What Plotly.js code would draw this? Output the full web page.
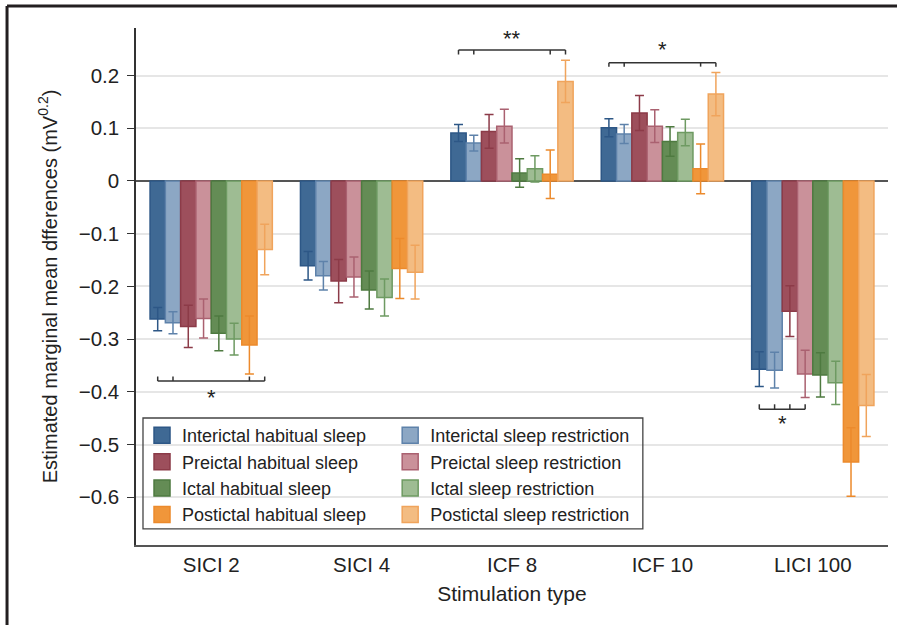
<!DOCTYPE html>
<html>
<head>
<meta charset="utf-8">
<script src="https://cdn.plot.ly/plotly-3.0.1.min.js"></script>
<style>html,body{margin:0;padding:0;background:#fff;}#chart{width:897px;height:625px;}</style>
</head>
<body>
<div id="chart"></div>
<script>
var categories = ["SICI 2", "SICI 4", "ICF 8", "ICF 10", "LICI 100"];
var seriesNames = [
  "Interictal habitual sleep", "Interictal sleep restriction",
  "Preictal habitual sleep", "Preictal sleep restriction",
  "Ictal habitual sleep", "Ictal sleep restriction",
  "Postictal habitual sleep", "Postictal sleep restriction"
];
var interictalHabitual    = [-0.262, -0.161, 0.091, 0.101, -0.357];
var interictalRestriction = [-0.269, -0.180, 0.072, 0.089, -0.359];
var preictalHabitual      = [-0.276, -0.190, 0.094, 0.129, -0.247];
var preictalRestriction   = [-0.261, -0.182, 0.104, 0.104, -0.366];
var ictalHabitual         = [-0.289, -0.207, 0.015, 0.075, -0.368];
var ictalRestriction      = [-0.300, -0.221, 0.023, 0.092, -0.383];
var postictalHabitual     = [-0.311, -0.166, 0.013, 0.023, -0.533];
var postictalRestriction  = [-0.130, -0.173, 0.189, 0.165, -0.426];

var errInterictalHabitual    = [0.022, 0.027, 0.016, 0.017, 0.033];
var errInterictalRestriction = [0.021, 0.027, 0.015, 0.018, 0.034];
var errPreictalHabitual      = [0.040, 0.041, 0.032, 0.033, 0.048];
var errPreictalRestriction   = [0.037, 0.038, 0.032, 0.031, 0.045];
var errIctalHabitual         = [0.033, 0.036, 0.027, 0.028, 0.042];
var errIctalRestriction      = [0.030, 0.035, 0.025, 0.025, 0.041];
var errPostictalHabitual     = [0.055, 0.057, 0.046, 0.047, 0.065];
var errPostictalRestriction  = [0.048, 0.051, 0.040, 0.041, 0.059];

var yTickVals = [0.2, 0.1, 0, -0.1, -0.2, -0.3, -0.4, -0.5, -0.6];

// significance brackets: category index, bar indices with ticks, level, tick end, label, label y
var bracketCats   = [0, 2, 3, 4];
var bracketBars   = [[0, 1, 6, 7], [0, 1, 6, 7], [0, 1, 6, 7], [0, 1, 2, 3]];
var bracketLevels = [-0.3795, 0.2486, 0.2245, -0.433];
var bracketTicks  = [-0.371, 0.240, 0.217, -0.4237];
var bracketLabels = ["*", "**", "*", "*"];
var bracketLabelY = [-0.410, 0.270, 0.249, -0.460];

var values = [interictalHabitual, interictalRestriction, preictalHabitual, preictalRestriction,
              ictalHabitual, ictalRestriction, postictalHabitual, postictalRestriction];
var errors = [errInterictalHabitual, errInterictalRestriction, errPreictalHabitual, errPreictalRestriction,
              errIctalHabitual, errIctalRestriction, errPostictalHabitual, errPostictalRestriction];
var fills = ["#3F6994", "#8CA7C4", "#9D4F5C", "#CA919A", "#648C55", "#9EBC93", "#F0963A", "#F3BC82"];
var lines = ["#2D5786", "#5E82AA", "#8C3B48", "#AA6170", "#4E7A40", "#6E9A62", "#EC8A2C", "#F0A45C"];

var FONT = "Liberation Sans, Arial, Helvetica, sans-serif";
var traces = [];
for (var i = 0; i < 8; i++) {
  traces.push({
    type: "bar",
    name: seriesNames[i],
    x: categories,
    y: values[i],
    marker: {color: fills[i], line: {color: lines[i], width: 1.5}},
    error_y: {type: "data", array: errors[i], visible: true, color: lines[i], thickness: 1.5, width: 4.5},
    showlegend: false,
    hoverinfo: "y"
  });
}
// legend entries (square swatches)
for (var j = 0; j < 8; j++) {
  traces.push({
    type: "scatter", mode: "markers",
    name: seriesNames[j],
    x: [categories[0]], y: [null],
    marker: {symbol: "square", size: 18, color: fills[j], line: {color: lines[j], width: 1.5}},
    legend: (j % 2 === 0) ? "legend" : "legend2",
    hoverinfo: "skip"
  });
}

var bargap = 0.187;
var groupW = 1 - bargap;
var barW = groupW / 8;
function barCenter(cat, b) { return cat - groupW / 2 + (b + 0.5) * barW; }

var shapes = [];
var annotations = [];
for (var k = 0; k < bracketCats.length; k++) {
  var bs = bracketBars[k];
  var c = bracketCats[k];
  shapes.push({type: "line", xref: "x", yref: "y",
    x0: barCenter(c, bs[0]), x1: barCenter(c, bs[bs.length - 1]),
    y0: bracketLevels[k], y1: bracketLevels[k], line: {color: "#333", width: 1.5}});
  for (var t = 0; t < bs.length; t++) {
    shapes.push({type: "line", xref: "x", yref: "y",
      x0: barCenter(c, bs[t]), x1: barCenter(c, bs[t]),
      y0: bracketLevels[k], y1: bracketTicks[k], line: {color: "#333", width: 1.5}});
  }
  annotations.push({xref: "x", yref: "y",
    x: (barCenter(c, bs[0]) + barCenter(c, bs[bs.length - 1])) / 2, y: bracketLabelY[k],
    text: bracketLabels[k], showarrow: false, font: {family: FONT, size: 22, color: "#222"}});
}
// legend frame
shapes.push({type: "rect", xref: "paper", yref: "paper", x0: 0.0093, x1: 0.674, y0: 0.031, y1: 0.2456,
  line: {color: "#444", width: 1.3}, fillcolor: "rgba(0,0,0,0)"});
// outer frame (top and left edges)
shapes.push({type: "line", xref: "paper", yref: "paper", x0: -0.1715, x1: 1.02, y0: 1.0426, y1: 1.0426,
  line: {color: "#231f20", width: 3}});
shapes.push({type: "line", xref: "paper", yref: "paper", x0: -0.1715, x1: -0.1715, y0: 1.0426, y1: -0.17,
  line: {color: "#231f20", width: 3}});

var layout = {
  width: 897, height: 625,
  margin: {l: 136, r: 9, t: 28, b: 80},
  paper_bgcolor: "#fff", plot_bgcolor: "#fff",
  font: {family: FONT, size: 18, color: "#222"},
  barmode: "group", bargap: bargap, bargroupgap: 0,
  xaxis: {
    type: "category", range: [-0.5, 4.5],
    showline: true, linecolor: "#555", linewidth: 2,
    ticks: "", showgrid: false, zeroline: false,
    tickfont: {family: FONT, size: 20.5, color: "#222"},
    title: {text: "Stimulation type", font: {family: FONT, size: 21, color: "#222"}, standoff: 12}
  },
  yaxis: {
    range: [-0.6907, 0.2903],
    tickvals: yTickVals,
    ticks: "outside", ticklen: 7, tickcolor: "#333", tickwidth: 1.2,
    ticklabelstandoff: 4,
    showline: true, linecolor: "#333", linewidth: 1.5,
    showgrid: true, gridcolor: "#e6e6e6", gridwidth: 1.5,
    zeroline: true, zerolinecolor: "#555", zerolinewidth: 2,
    tickfont: {family: FONT, size: 20.5, color: "#222"},
    title: {text: "Estimated marginal mean dfferences (mV<sup>0.2</sup>)", font: {family: FONT, size: 20, color: "#222"}, standoff: 16}
  },
  legend: {x: 0.008, y: 0.2475, xanchor: "left", yanchor: "top", bgcolor: "rgba(0,0,0,0)",
    font: {family: FONT, size: 18, color: "#222"}, tracegroupgap: 0},
  legend2: {x: 0.338, y: 0.2475, xanchor: "left", yanchor: "top", bgcolor: "rgba(0,0,0,0)",
    font: {family: FONT, size: 18, color: "#222"}, tracegroupgap: 0},
  shapes: shapes,
  annotations: annotations,
  showlegend: true
};

Plotly.newPlot("chart", traces, layout, {displayModeBar: false, responsive: false});
</script>
</body>
</html>
